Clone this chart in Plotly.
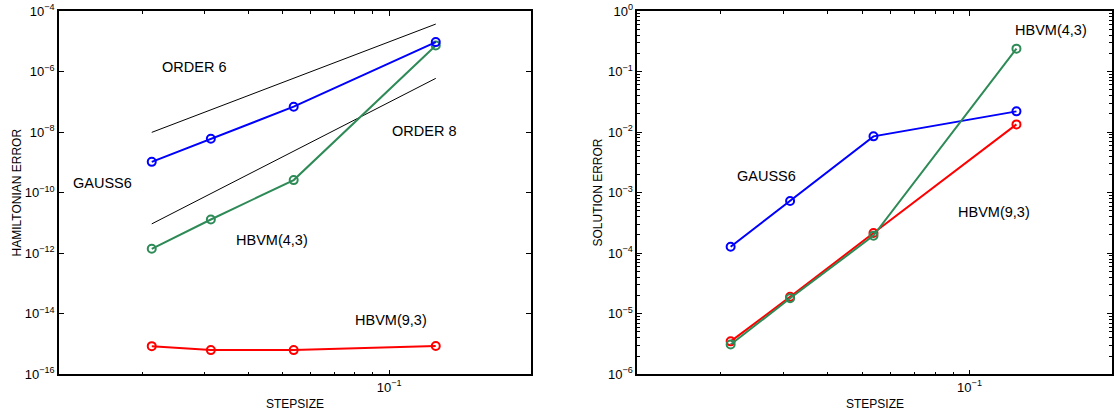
import plotly.graph_objects as go
import math

# ---- data ----
stepsize = [0.0213, 0.0313, 0.0537, 0.1355]

ham_gauss6 = [1.04e-9, 6.0e-9, 6.9e-8, 9.4e-6]
ham_hbvm43 = [1.4e-12, 1.3e-11, 2.6e-10, 7.3e-6]
ham_hbvm93 = [8.5e-16, 6.3e-16, 6.3e-16, 8.6e-16]

order_x = [0.0213, 0.1355]
order6_y = [9.8e-9, 3.7e-5]
order8_y = [9.3e-12, 5.96e-7]

sol_gauss6 = [1.28e-4, 7.3e-4, 8.5e-3, 0.022]
sol_hbvm43 = [3.1e-6, 1.8e-5, 1.95e-4, 0.239]
sol_hbvm93 = [3.5e-6, 1.9e-5, 2.15e-4, 0.0134]

x_range = [0.01164, 0.2515]
x_minor = [0.02, 0.03, 0.04, 0.05, 0.06, 0.07, 0.08, 0.09]
left_y_ticks = [1e-16, 1e-14, 1e-12, 1e-10, 1e-8, 1e-6, 1e-4]
right_y_ticks = [1e-6, 1e-5, 1e-4, 1e-3, 1e-2, 1e-1, 1e0]

BLUE = "#0000ff"
GREEN = "#2e8b57"
RED = "#ff0000"
FONT = "Liberation Sans, Arial, Helvetica, sans-serif"


def sup(v):
    e = int(round(math.log10(v)))
    return "10<sup>" + ("\u2212" + str(-e) if e < 0 else str(e)) + "</sup>"


fig = go.Figure()


def series(x, y, color, xa, ya):
    fig.add_trace(go.Scatter(
        x=x, y=y, mode="lines+markers", xaxis=xa, yaxis=ya,
        line=dict(color=color, width=2),
        marker=dict(symbol="circle-open", size=8, color=color, line=dict(width=2, color=color)),
        showlegend=False, hoverinfo="x+y"))


# left panel
for yy in (order6_y, order8_y):
    fig.add_trace(go.Scatter(x=order_x, y=yy, mode="lines", xaxis="x", yaxis="y",
                             line=dict(color="black", width=1), showlegend=False))
series(stepsize, ham_hbvm93, RED, "x", "y")
series(stepsize, ham_hbvm43, GREEN, "x", "y")
series(stepsize, ham_gauss6, BLUE, "x", "y")

# right panel
series(stepsize, sol_gauss6, BLUE, "x2", "y2")
series(stepsize, sol_hbvm93, RED, "x2", "y2")
series(stepsize, sol_hbvm43, GREEN, "x2", "y2")

W, H = 1114, 414


def px(x):
    return x / W


def py(y):
    return 1 - y / H


ydom = [py(374.3), py(11)]

xaxis_common = dict(
    type="log", range=[math.log10(x_range[0]), math.log10(x_range[1])],
    tickmode="array", tickvals=[0.1], ticktext=[sup(0.1)],
    ticks="inside", ticklen=5, tickwidth=1, tickcolor="black",
    minor=dict(tickmode="array", tickvals=x_minor, ticks="inside", ticklen=3, tickcolor="black"),
    showline=True, linecolor="black", linewidth=1.5, mirror="allticks",
    showgrid=False, zeroline=False, automargin=False, ticklabeloverflow="allow",
    tickfont=dict(family=FONT, size=13, color="black"),
)

yaxis_common = dict(
    type="log", domain=ydom,
    tickmode="array",
    ticks="inside", ticklen=5, tickcolor="black",
    showline=True, linecolor="black", linewidth=1.5, mirror="allticks",
    showgrid=False, zeroline=False, automargin=False, ticklabeloverflow="allow",
    tickfont=dict(family=FONT, size=13, color="black"),
)

fig.update_layout(
    width=W, height=H,
    margin=dict(l=0, r=0, t=0, b=0, autoexpand=False),
    paper_bgcolor="white", plot_bgcolor="white",
    font=dict(family=FONT, color="black"),
    xaxis=dict(xaxis_common, domain=[px(59), px(530.7)], anchor="y"),
    xaxis2=dict(xaxis_common, domain=[px(637.3), px(1112)], anchor="y2"),
    yaxis=dict(yaxis_common, range=[-16, -4], anchor="x",
               tickvals=left_y_ticks, ticktext=[sup(v) for v in left_y_ticks]),
    yaxis2=dict(yaxis_common, range=[-6, 0], anchor="x2",
                tickvals=right_y_ticks, ticktext=[sup(v) for v in right_y_ticks],
                minor=dict(ticks="inside", ticklen=3, tickcolor="black", dtick="D1")),
)

labels = [
    ("ORDER 6", 193.5, 67),
    ("GAUSS6", 102, 183),
    ("ORDER 8", 424, 131),
    ("HBVM(4,3)", 272, 240),
    ("HBVM(9,3)", 391, 320),
    ("GAUSS6", 766, 176),
    ("HBVM(4,3)", 1051, 30),
    ("HBVM(9,3)", 993.6, 212.3),
]
for t, x, y in labels:
    fig.add_annotation(text=t, x=px(x), y=py(y), xref="paper", yref="paper",
                       showarrow=False, xanchor="center", yanchor="middle",
                       font=dict(family=FONT, size=14.5, color="black"))

# axis titles
for t, x, y, ang in [("STEPSIZE", 294.5, 404, 0), ("STEPSIZE", 874.6, 404, 0),
                     ("HAMILTONIAN ERROR", 16, 192.5, -90), ("SOLUTION ERROR", 597, 192.5, -90)]:
    fig.add_annotation(text=t, x=px(x), y=py(y), xref="paper", yref="paper",
                       showarrow=False, xanchor="center", yanchor="middle", textangle=ang,
                       font=dict(family=FONT, size=12, color="black"))

# remove the default page margin so the figure sits at the window's corner
fig.write_html("out.html",
               config={"displayModeBar": False},
               post_script="document.body.style.margin='0';document.body.style.overflow='hidden';")
